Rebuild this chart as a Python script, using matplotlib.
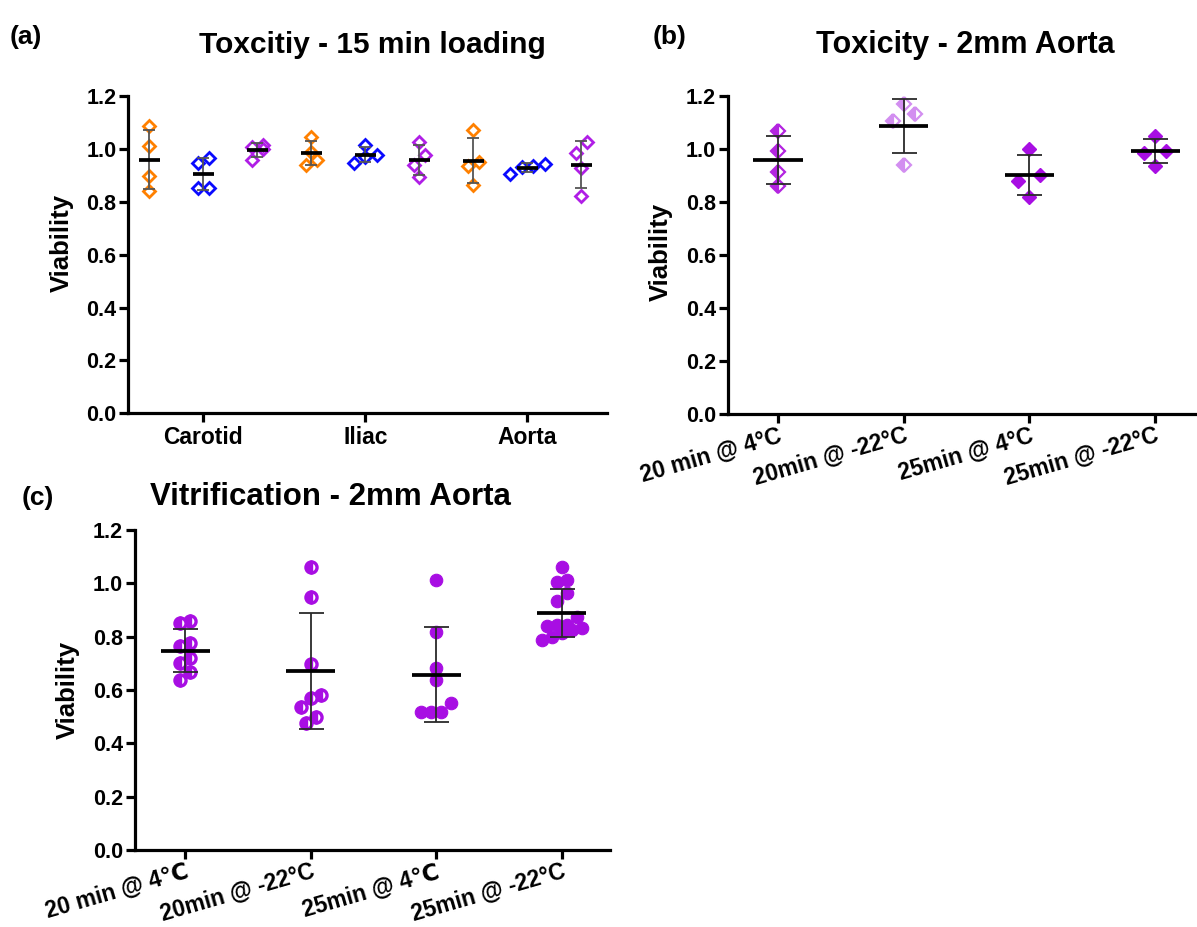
import numpy as np
import matplotlib
matplotlib.use("Agg")
import matplotlib.pyplot as plt

plt.rcParams['font.family'] = ['Liberation Sans', 'DejaVu Sans']
plt.rcParams['font.weight'] = 'bold'

# ---------------- data ----------------
# (a) toxicity after 15 min loading, three vessels x three solutions
tox_groups = ['Carotid', 'Iliac', 'Aorta']
carotid_orange = [1.086, 1.012, 0.897, 0.840]
carotid_blue = [0.965, 0.946, 0.852, 0.852]
carotid_purple = [1.009, 1.015, 1.000, 0.959]
iliac_orange = [1.046, 0.990, 0.959, 0.940]
iliac_blue = [1.015, 0.977, 0.971, 0.946]
iliac_purple = [1.027, 0.977, 0.940, 0.892]
aorta_orange = [1.071, 0.949, 0.936, 0.865]
aorta_blue = [0.936, 0.944, 0.905, 0.932]
aorta_purple = [1.027, 0.986, 0.927, 0.821]

# (b) toxicity, 2mm aorta
b_labels = ['20 min @ 4°C', '20min @ -22°C', '25min @ 4°C', '25min @ -22°C']
b_20_4 = [1.069, 0.994, 0.914, 0.861]
b_20_m22 = [1.133, 1.171, 1.107, 0.939]
b_25_4 = [1.000, 0.903, 0.880, 0.819]
b_25_m22 = [1.048, 0.994, 0.985, 0.937]

# (c) vitrification, 2mm aorta
c_labels = ['20 min @ 4℃', '20min @ -22°C', '25min @ 4℃', '25min @ -22°C']
c_20_4 = [0.859, 0.8525, 0.766, 0.775, 0.721, 0.700, 0.666, 0.6375]
c_20_m22 = [1.0625, 0.9475, 0.696, 0.569, 0.581, 0.5375, 0.500, 0.4775]
c_25_4 = [1.0125, 0.819, 0.684, 0.6375, 0.5525, 0.519, 0.519, 0.519]
c_25_m22 = [1.060, 1.0125, 1.005, 0.965, 0.934, 0.875, 0.831, 0.844,
            0.844, 0.840, 0.8125, 0.7975, 0.7875, 0.825]

ORANGE = '#ff8000'
BLUE = '#0a0aff'
PURPLE = '#b01ee6'
PURPLE_DARK = '#b324e0'
PURPLE_LIGHT = '#d28ef0'
PURPLE_FILL = '#a80ee3'

fig = plt.figure(figsize=(11.97, 9.27), dpi=100)
W, H = 1197.0, 927.0


def axes_px(left, top, right, bottom):
    return fig.add_axes([left / W, 1 - bottom / H, (right - left) / W, (bottom - top) / H])


def style_axes(ax, xlim):
    ax.set_xlim(*xlim)
    ax.set_ylim(0, 1.2)
    ticks = np.arange(0, 1.21, 0.2)
    ax.set_yticks(ticks)
    ax.set_yticklabels([f'{v:.1f}' for v in ticks], fontweight='bold')
    for s in ('top', 'right'):
        ax.spines[s].set_visible(False)
    for s in ('left', 'bottom'):
        ax.spines[s].set_linewidth(2.3)
    ax.tick_params(axis='both', width=2.3, length=6.5, labelsize=15.5, direction='out')
    ax.tick_params(axis='y', pad=2)


def scatter_offsets(ax, values, row_px, gap_px):
    """Group points into horizontal rows by value and spread each row symmetrically."""
    p0 = ax.transData.transform((0, 0))
    p1 = ax.transData.transform((1, 1))
    sx, sy = p1[0] - p0[0], p1[1] - p0[1]
    vals = np.asarray(values, float)
    order = np.argsort(vals)
    offs = np.zeros(len(vals))
    rows, cur, start = [], [], None
    for i in order:
        y = vals[i] * sy
        if cur and y - start > row_px:
            rows.append(cur)
            cur = []
        if not cur:
            start = y
        cur.append(i)
    if cur:
        rows.append(cur)
    for row in rows:
        n = len(row)
        for k, i in enumerate(row):
            offs[i] = (k - (n - 1) / 2) * gap_px / sx
    return offs


def column(ax, x, values, row_px, gap_px, mean_half, capsize, marker_kw, ecolor='#2a2a2a'):
    vals = np.asarray(values, float)
    offs = scatter_offsets(ax, vals, row_px, gap_px)
    ax.plot(x + offs, vals, linestyle='none', zorder=3, **marker_kw)
    m = vals.mean()
    sd = vals.std(ddof=1)
    ax.errorbar([x], [m], yerr=[sd], fmt='none', ecolor=ecolor, elinewidth=1.3,
                capsize=capsize, capthick=1.3, zorder=4)
    ax.hlines(m, x - mean_half, x + mean_half, color='black', lw=2.7, zorder=5)


# ---------------- (a) ----------------
ax_a = axes_px(128.3, 96.0, 606.7, 413.3)
style_axes(ax_a, (0.61, 9.47))
cols_a = [(carotid_orange, ORANGE), (carotid_blue, BLUE), (carotid_purple, PURPLE),
          (iliac_orange, ORANGE), (iliac_blue, BLUE), (iliac_purple, PURPLE),
          (aorta_orange, ORANGE), (aorta_blue, BLUE), (aorta_purple, PURPLE)]
for i, (vals, col) in enumerate(cols_a):
    column(ax_a, i + 1, vals, 11.0, 11.5, 0.195, 4.3,
           dict(marker='D', ms=6.3, mfc='none', mec=col, mew=2.0), ecolor='#555555')
ax_a.set_xticks([2, 5, 8])
ax_a.set_xticklabels(tox_groups, fontsize=16.5, fontweight='bold')
ax_a.tick_params(axis='x', pad=3)

# ---------------- (b) ----------------
ax_b = axes_px(727.7, 96.0, 1196.7, 414.0)
style_axes(ax_b, (0.6, 4.33))
b_cols = [(b_20_4, dict(marker='D', ms=7.5, color=PURPLE_DARK, fillstyle='left',
                        mfc=PURPLE_DARK, mfcalt='white', mec=PURPLE_DARK, mew=1.6)),
          (b_20_m22, dict(marker='D', ms=7.5, color=PURPLE_LIGHT, fillstyle='left',
                          mfc=PURPLE_LIGHT, mfcalt='white', mec=PURPLE_LIGHT, mew=1.6)),
          (b_25_4, dict(marker='D', ms=7.5, color=PURPLE_FILL, mec=PURPLE_FILL, mew=1.0)),
          (b_25_m22, dict(marker='D', ms=7.5, color=PURPLE_FILL, mec=PURPLE_FILL, mew=1.0))]
for i, (vals, kw) in enumerate(b_cols):
    column(ax_b, i + 1, vals, 12.0, 22.0, 0.195, 9.0, kw)
ax_b.set_xticks([1, 2, 3, 4])
ax_b.set_xticklabels(b_labels, fontsize=16.5, fontweight='bold', rotation=16,
                     ha='right', rotation_mode='anchor')
ax_b.tick_params(axis='x', pad=1)

# ---------------- (c) ----------------
ax_c = axes_px(134.8, 530.0, 610.0, 850.0)
style_axes(ax_c, (0.6, 4.385))
c_half = dict(marker='o', ms=8.0, color=PURPLE_FILL, fillstyle='left', mfc=PURPLE_FILL,
              mfcalt='white', mec=PURPLE_FILL, mew=2.4)
c_full = dict(marker='o', ms=9.0, color=PURPLE_FILL, mec=PURPLE_FILL, mew=0.8)
c_cols = [(c_20_4, c_half), (c_20_m22, c_half), (c_25_4, c_full), (c_25_m22, c_full)]
for i, (vals, kw) in enumerate(c_cols):
    column(ax_c, i + 1, vals, 12.0, 10.0, 0.195, 9.0, kw)
ax_c.set_xticks([1, 2, 3, 4])
ax_c.set_xticklabels(c_labels, fontsize=16.5, fontweight='bold', rotation=16,
                     ha='right', rotation_mode='anchor')
ax_c.tick_params(axis='x', pad=1)

# ---------------- titles, panel letters, axis labels ----------------
def ftext(x, y, s, **kw):
    fig.text(x / W, 1 - y / H, s, fontweight='bold', ha='center', va='center', **kw)


ftext(26, 37, '(a)', fontsize=19)
ftext(670, 37, '(b)', fontsize=19)
ftext(38, 498, '(c)', fontsize=19)
ftext(372, 45, 'Toxcitiy - 15 min loading', fontsize=21.5)
ftext(965, 45, 'Toxicity - 2mm Aorta', fontsize=22)
ftext(330, 497, 'Vitrification - 2mm Aorta', fontsize=22.5)
ftext(62, 243, 'Viability', fontsize=18.5, rotation=90)
ftext(661, 252, 'Viability', fontsize=18.5, rotation=90)
ftext(68, 690, 'Viability', fontsize=18.5, rotation=90)

fig.savefig('out.png', dpi=100)
